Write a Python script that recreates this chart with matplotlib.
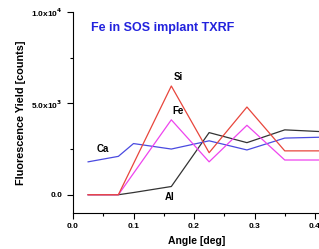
import matplotlib
matplotlib.use('Agg')
import matplotlib.pyplot as plt
from matplotlib.ticker import MultipleLocator

plt.rcParams['font.family'] = ['Liberation Sans', 'DejaVu Sans']
plt.rcParams['font.weight'] = 'bold'
plt.rcParams['mathtext.default'] = 'bf'

# data
angle = [0.025, 0.075, 0.1, 0.1625, 0.225, 0.2875, 0.35, 0.4125]
si = [0, 0, None, 5950, 2300, 4800, 2400, 2400]
fe = [0, 0, None, 4100, 1800, 3800, 1900, 1900]
ca = [1800, 2100, 2800, 2500, 2950, 2450, 3100, 3150]
al = [0, 0, 120, 450, 3400, 2850, 3550, 3450]

yticks = [0, 5000, 10000]
ytick_labels = ['0.0', r'5.0x10$^3$', r'1.0x10$^4$']
xticks = [0.0, 0.1, 0.2, 0.3, 0.4]


def pts(xs, ys):
    pairs = [(x, y) for x, y in zip(xs, ys) if y is not None]
    return [p[0] for p in pairs], [p[1] for p in pairs]


fig = plt.figure(figsize=(3.19, 2.49), dpi=100)
ax = fig.add_axes([73 / 319, 36 / 249, 302.5 / 319, 201 / 249])

for ys, c in [(al, '#333333'), (ca, '#4a4ae0'), (fe, '#ee44ee'), (si, '#e8463c')]:
    x, y = pts(angle, ys)
    ax.plot(x, y, color=c, lw=0.9)

ax.set_xlim(0, 0.5)
ax.set_ylim(-1000, 10000)
ax.set_xticks(xticks)
ax.set_xticklabels([f'{t:.1f}' for t in xticks])
ax.set_yticks(yticks)
ax.set_yticklabels(ytick_labels)
ax.xaxis.set_minor_locator(MultipleLocator(0.05))
ax.yaxis.set_minor_locator(MultipleLocator(2500))
ax.tick_params(which='both', direction='out', labelsize=6, width=0.8)
ax.tick_params(which='major', length=4)
ax.tick_params(which='minor', length=2.5)
for s in ['top', 'right']:
    ax.spines[s].set_visible(False)
for s in ['left', 'bottom']:
    ax.spines[s].set_linewidth(0.8)

ax.set_xlabel('Angle [deg]', fontsize=7.5, fontweight='bold')
ax.xaxis.set_label_coords(0.41, -0.115)
ax.set_ylabel('Fluorescence Yield [counts]', fontsize=7.8, fontweight='bold')
ax.yaxis.set_label_coords(-0.157, 0.5)

ax.text(0.029, 9150, 'Fe in SOS implant TXRF', color='#2222dd', fontsize=9,
        fontweight='bold', va='center')
ax.text(0.174, 6450, 'Si', fontsize=7, ha='center', va='center')
ax.text(0.173, 4600, 'Fe', fontsize=7, ha='center', va='center')
ax.text(0.05, 2500, 'Ca', fontsize=7, ha='center', va='center')
ax.text(0.16, -150, 'Al', fontsize=7, ha='center', va='center')

fig.savefig('out.png', dpi=100)
